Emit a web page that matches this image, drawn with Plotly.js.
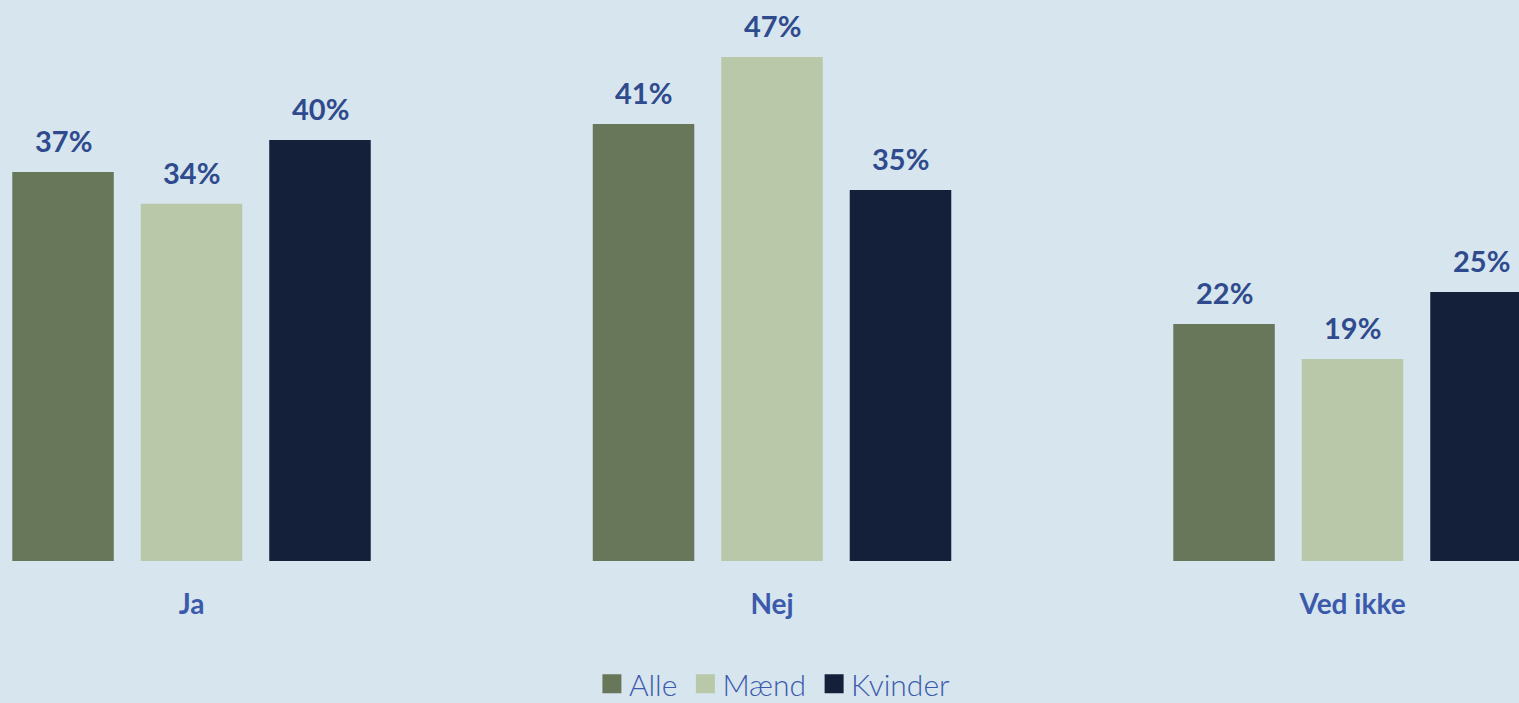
<!DOCTYPE html>
<html>
<head>
<meta charset="utf-8">
<script src="https://cdn.plot.ly/plotly-3.0.1.min.js"></script>
<style>html,body{margin:0;padding:0;background:#d7e5ef;}#chart{width:1519px;height:703px;}</style>
</head>
<body>
<div id="chart"></div>
<script>
const categories = ["Ja", "Nej", "Ved ikke"];
const seriesNames = ["Alle", "Mænd", "Kvinder"];
const alle = [36.6, 41.1, 22.3];
const maend = [33.6, 47.4, 19.0];
const kvinder = [39.6, 34.9, 25.3];
const seriesValues = [alle, maend, kvinder];
const seriesColors = ["#687659", "#bac8aa", "#141f3a"];

const traces = seriesValues.map((vals, i) => ({
  type: "bar",
  name: seriesNames[i],
  x: categories,
  y: vals,
  marker: {color: seriesColors[i]},
  hoverinfo: "skip",
  cliponaxis: false
}));

const slotPx = 128.5;
const annotations = [];
seriesValues.forEach((vals, i) => {
  vals.forEach((v, j) => {
    annotations.push({
      x: categories[j], y: v, xref: "x", yref: "y",
      text: Math.round(v) + "%", showarrow: false,
      xshift: (i - 1) * slotPx, yshift: 12, yanchor: "bottom",
      font: {family: "Lato, sans-serif", size: 29, color: "#2f4b8d", weight: 700}
    });
  });
});

const layout = {
  width: 1519, height: 703,
  paper_bgcolor: "#d7e5ef", plot_bgcolor: "#d7e5ef",
  margin: {l: 0, r: 0, t: 20, b: 142, pad: 0, autoexpand: false},
  barmode: "group", bargap: 0.336, bargroupgap: 0.21,
  xaxis: {
    range: [-0.3299, 2.2868], showgrid: false, zeroline: false, showline: false, ticks: "",
    tickfont: {family: "Lato, sans-serif", size: 28, color: "#3b5aab", weight: 700},
    ticklabelstandoff: 24, fixedrange: true, automargin: false
  },
  yaxis: {range: [0, 50.89], visible: false, fixedrange: true},
  showlegend: true,
  legend: {
    orientation: "h", x: 0.5085, xanchor: "center", y: -0.227, yanchor: "middle",
    font: {family: "Lato, sans-serif", size: 30, color: "#3b5aab", weight: 300},
    itemwidth: 30, bgcolor: "rgba(0,0,0,0)", traceorder: "normal"
  },
  annotations: annotations
};

Plotly.newPlot("chart", traces, layout, {displayModeBar: false, staticPlot: true}).then(() => {
  document.querySelectorAll(".legendpoints path").forEach(p => {
    p.setAttribute("d", "M12.5,9.5H-6.5V-9.5H12.5Z");
  });
});
</script>
</body>
</html>
